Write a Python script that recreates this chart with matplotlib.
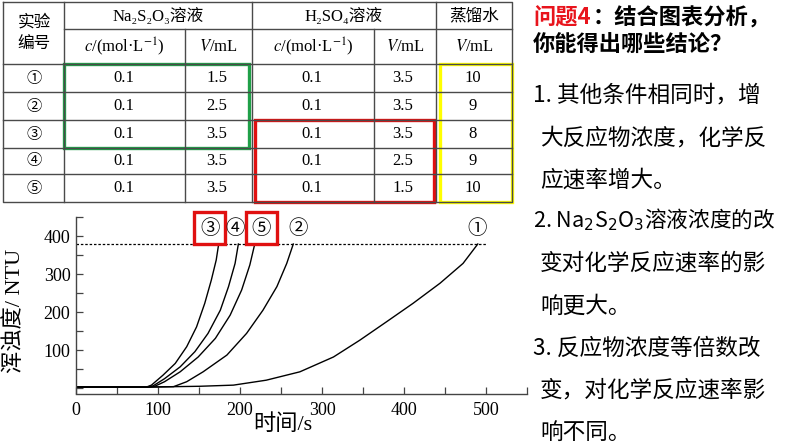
import matplotlib.pyplot as plt
from matplotlib.patches import Rectangle
from matplotlib.ticker import MultipleLocator

W, H = 794, 447

SERIF = ['Liberation Serif', 'DejaVu Serif', 'Noto Sans CJK SC']
SANS = ['Noto Sans CJK SC', 'DejaVu Sans']

plt.rcParams['font.family'] = SERIF

# experiment table
exp_ids = ['①', '②', '③', '④', '⑤']
na_conc = [0.1, 0.1, 0.1, 0.1, 0.1]
na_vol = [1.5, 2.5, 3.5, 3.5, 3.5]
h2so4_conc = [0.1, 0.1, 0.1, 0.1, 0.1]
h2so4_vol = [3.5, 3.5, 3.5, 2.5, 1.5]
water_vol = [10, 9, 8, 9, 10]

# turbidity curves (time s, NTU)
t_1 = [0, 90, 151, 192, 232, 273, 314, 346, 379, 411, 444, 472, 490]
ntu_1 = [3, 3, 5, 8, 21, 43, 82, 126, 175, 223, 276, 328, 379]
t_2 = [0, 90, 119, 135, 155, 184, 208, 228, 245, 257, 265]
ntu_2 = [3, 3, 4, 17, 43, 87, 144, 205, 267, 328, 379]
t_3 = [0, 86, 92, 106, 121, 135, 147, 157, 165, 171, 174]
ntu_3 = [3, 3, 8, 34, 65, 109, 161, 223, 284, 337, 379]
t_4 = [0, 87, 94, 108, 127, 145, 161, 176, 186, 194, 198]
ntu_4 = [3, 3, 6, 25, 56, 96, 144, 205, 267, 328, 379]
t_5 = [0, 88, 96, 108, 127, 149, 170, 188, 202, 212, 218]
ntu_5 = [3, 3, 5, 17, 43, 82, 131, 192, 258, 324, 379]
threshold = 380
threshold_end = 500

curve_labels = ['①', '②', '③', '④', '⑤']
label_x = [489, 271, 163, 194, 226]
label_y = 421
boxed = ['③', '⑤']

fig = plt.figure(figsize=(W / 100, H / 100), dpi=100)

# overlay in pixel coords for the table and the notes
ov = fig.add_axes([0, 0, 1, 1])
ov.set_xlim(0, W)
ov.set_ylim(H, 0)
ov.axis('off')

line_kw = dict(color='#4a4a4a', lw=1.0)
left, right, top, bottom = 3, 512, 2, 202
row_edges = [64, 92, 120, 148, 174, 202]
ov.plot([left, right, right, left, left], [top, top, bottom, bottom, top], **line_kw)
for y in row_edges[:-1]:
    ov.plot([left, right], [y, y], **line_kw)
ov.plot([64, right], [29, 29], **line_kw)
for x in [64, 252, 436]:
    ov.plot([x, x], [top, bottom], **line_kw)
for x in [185, 374]:
    ov.plot([x, x], [29, bottom], **line_kw)

tkw = dict(ha='center', va='center', fontsize=12)
ov.text(34, 22, '实验', family=SANS, **tkw)
ov.text(34, 44, '编号', family=SANS, **tkw)
ov.text(158, 16, 'Na₂S₂O₃溶液', **tkw)
ov.text(344, 16, 'H₂SO₄溶液', **tkw)
ov.text(474, 16, '蒸馏水', family=SANS, **tkw)
for x, s in [(124, '$c$/(mol·L$^{-1}$)'), (218, '$V$/mL'), (313, '$c$/(mol·L$^{-1}$)'),
             (405, '$V$/mL'), (474, '$V$/mL')]:
    ov.text(x, 47, s, math_fontfamily='stix', **tkw)

row_y = [(a + b) / 2 for a, b in zip(row_edges[:-1], row_edges[1:])]
cols = [na_conc, na_vol, h2so4_conc, h2so4_vol, water_vol]
col_x = [124, 217, 312, 403, 473]
for i, y in enumerate(row_y):
    ov.text(34, y, exp_ids[i], family=SANS, ha='center', va='center', fontsize=11)
    for x, col in zip(col_x, cols):
        ov.text(x, y, f'{col[i]:g}', **tkw)

ov.add_patch(Rectangle((64, 64), 185, 84, fill=False, ec='#1fa048', lw=2.4))
ov.add_patch(Rectangle((255, 120), 179, 82, fill=False, ec='#e01010', lw=2.4))
ov.add_patch(Rectangle((440, 64), 72, 138, fill=False, ec='#ffff00', lw=2.4))

# notes on the right
hkw = dict(family=SANS, fontsize=16, weight='bold', va='center')
ov.text(533, 18, '问题4', color='#e8141c', **hkw)
ov.text(593, 18, '：结合图表分析，', color='black', **hkw)
ov.text(533, 45, '你能得出哪些结论？', color='black', **hkw)

notes = [
    (533, 95, '1. 其他条件相同时，增'),
    (540, 138, '大反应物浓度，化学反'),
    (540, 180, '应速率增大。'),
    (533, 220, '2. Na$_2$S$_2$O$_3$溶液浓度的改'),
    (540, 263, '变对化学反应速率的影'),
    (540, 306, '响更大。'),
    (533, 348, '3. 反应物浓度等倍数改'),
    (540, 390, '变，对化学反应速率影'),
    (540, 432, '响不同。'),
]
for x, y, s in notes:
    size = 15.6 if '$' in s else 16.3
    ov.text(x, y, s, family=SANS, fontsize=size, va='center', color='black',
            math_fontfamily='dejavusans')

# chart
ax = fig.add_axes([76 / W, 1 - 393.5 / H, (527 - 76) / W, (393.5 - 217) / H])
ax.set_facecolor('none')
curves = [(t_1, ntu_1), (t_2, ntu_2), (t_3, ntu_3), (t_4, ntu_4), (t_5, ntu_5)]
for t, n in curves:
    ax.plot(t, n, color='black', lw=1.0)
ax.plot([0, threshold_end], [threshold, threshold], color='black', lw=0.9, ls=(0, (2, 1.5)))

for lab, x in zip(curve_labels, label_x):
    bbox = None
    if lab in boxed:
        bbox = dict(boxstyle='square,pad=0.3', fc='none', ec='#e01010', lw=2.4)
    ax.text(x, label_y, lab, family=SANS, fontsize=14, ha='center', va='center',
            bbox=bbox, clip_on=False)

ax.set_xlim(0, 550)
ax.set_ylim(-14, 450)
ax.set_xticks([0, 100, 200, 300, 400, 500])
ax.set_yticks([100, 200, 300, 400])
ax.xaxis.set_minor_locator(MultipleLocator(50))
ax.yaxis.set_minor_locator(MultipleLocator(50))
ax.tick_params(which='both', direction='in', length=5, width=0.9, color='#444444',
               labelsize=13)
ax.tick_params(axis='x', pad=6)
ax.tick_params(axis='y', pad=4)
for side in ['top', 'right']:
    ax.spines[side].set_visible(False)
for side in ['left', 'bottom']:
    ax.spines[side].set_color('#444444')
    ax.spines[side].set_linewidth(1.0)

ax.set_xlabel('时间/s', fontsize=16)
ax.xaxis.set_label_coords(0.458, -0.115)
ax.set_ylabel('浑浊度/ NTU', fontsize=16)
ax.yaxis.set_label_coords(-0.113, 0.467)

fig.savefig('out.png', dpi=100)
